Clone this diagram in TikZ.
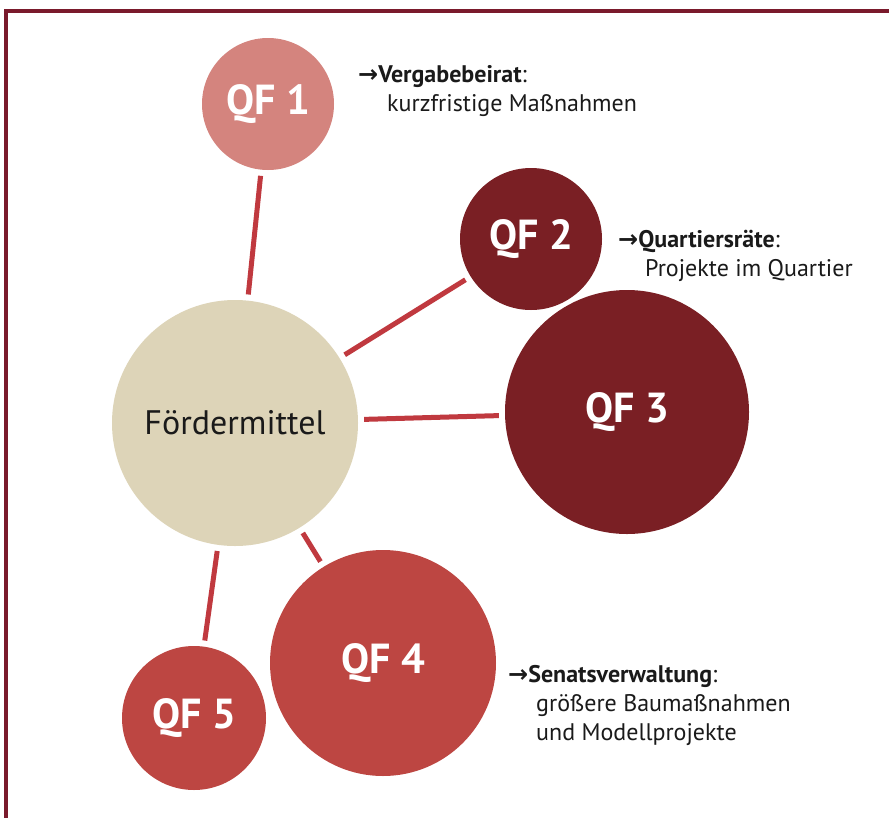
\documentclass[tikz,border=0pt]{standalone}
\usepackage{fontspec}
\setmainfont{PT Sans}
\newfontfamily\arrowfont{DejaVu Sans}
\definecolor{framec}{HTML}{7A1A2C}
\definecolor{lightred}{HTML}{D4847E}
\definecolor{darkred}{HTML}{7A1F24}
\definecolor{midred}{HTML}{BD4642}
\definecolor{beige}{HTML}{DDD4B8}
\definecolor{linec}{HTML}{C0393F}
\definecolor{txt}{HTML}{1A1A1A}
\tikzset{
  bubble/.style={circle, inner sep=0pt, text=white, font=\fontsize{42}{44}\selectfont\bfseries},
  link/.style={linec, line width=5pt, shorten <=6pt, shorten >=6pt},
  note/.style={anchor=base west, align=left, text=txt, inner sep=0pt, font=\fontsize{24}{29}\selectfont}
}
\newcommand{\arr}{{\arrowfont\bfseries →}}
\begin{document}
\begin{tikzpicture}[x=1pt,y=-1pt]
\useasboundingbox (0,0) rectangle (889,817);
\fill[white] (0,0) rectangle (889,817);
\draw[framec, line width=4pt] (6,840) -- (6,11) -- (910,11);

\node[bubble, fill=beige, minimum size=246pt, text=txt, font=\fontsize{34}{36}\selectfont] (ford) at (235,423) {Fördermittel};
\node[bubble, fill=lightred, minimum size=132pt] (qf1) at (268,104) {QF 1};
\node[bubble, fill=darkred, minimum size=142pt] (qf2) at (531,239) {QF 2};
\node[bubble, fill=darkred, minimum size=244pt] (qf3) at (627,412) {QF 3};
\node[bubble, fill=midred, minimum size=226pt] (qf4) at (383,663) {QF 4};
\node[bubble, fill=midred, minimum size=144pt] (qf5) at (194,718) {QF 5};

\draw[link] (qf1) -- (ford);
\draw[link] (qf2) -- (ford);
\draw[link] (qf3) -- (ford);
\draw[link] (qf4) -- (ford);
\draw[link] (qf5) -- (ford);

\node[note] (n1) at (358,111) {\arr\textbf{Vergabebeirat}:\\\hspace*{29pt}kurzfristige Maßnahmen};
\node[note] (n2) at (618,276) {\arr\textbf{Quartiersräte}:\\\hspace*{27pt}Projekte im Quartier};
\node[note] (n3) at (508,740) {\arr\textbf{Senatsverwaltung}:\\\hspace*{28pt}größere Baumaßnahmen\\\hspace*{28pt}und Modellprojekte};
\end{tikzpicture}
\end{document}
